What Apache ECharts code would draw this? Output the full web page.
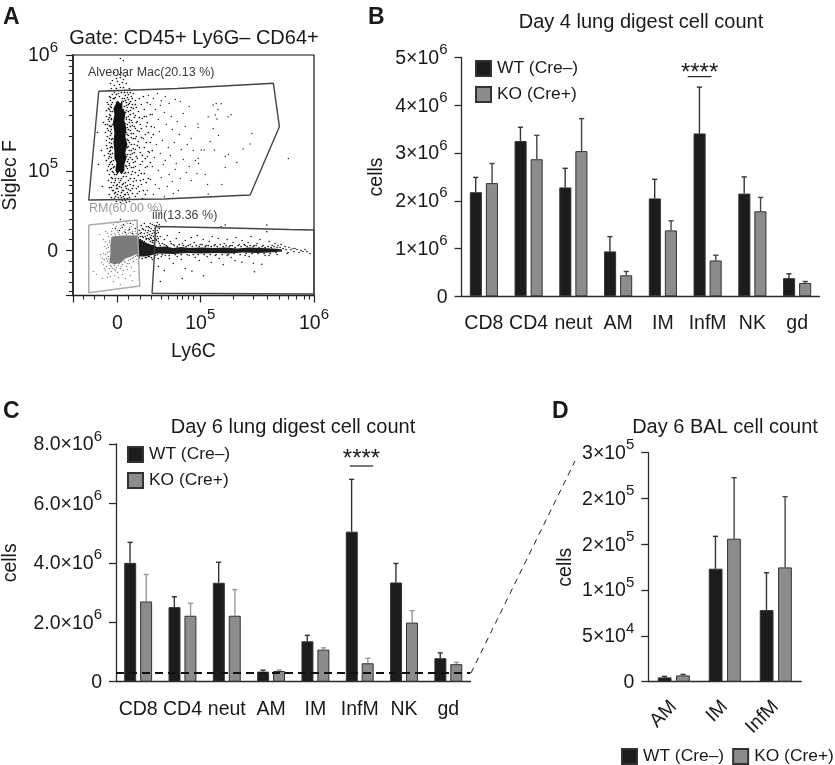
<!DOCTYPE html>
<html><head><meta charset="utf-8">
<style>html,body{margin:0;padding:0;background:#fff}#c{width:835px;height:765px}</style>
<script src="https://cdn.jsdelivr.net/npm/echarts@6/dist/echarts.min.js"></script>
</head><body><div id="c"></div>
<script>
// ---------- data: bars ----------
const wtName = 'WT (Cre–)', koName = 'KO (Cre+)';
const cats8 = ['CD8','CD4','neut','AM','IM','InfM','NK','gd'];
const catsD = ['AM','IM','InfM'];
const bWT = [2.18e6,3.25e6,2.28e6,0.94e6,2.05e6,3.41e6,2.15e6,0.38e6];
const bWTup = [2.49e6,3.54e6,2.68e6,1.25e6,2.45e6,4.38e6,2.50e6,0.47e6];
const bKO = [2.37e6,2.87e6,3.04e6,0.44e6,1.38e6,0.75e6,1.78e6,0.28e6];
const bKOup = [2.78e6,3.37e6,3.72e6,0.52e6,1.58e6,0.86e6,2.07e6,0.31e6];
const cWT = [4.0e6,2.51e6,3.33e6,0.34e6,1.36e6,5.05e6,3.34e6,0.79e6];
const cWTup = [4.69e6,2.86e6,4.02e6,0.39e6,1.56e6,6.81e6,3.98e6,0.97e6];
const cKO = [2.70e6,2.22e6,2.22e6,0.36e6,1.08e6,0.62e6,1.99e6,0.59e6];
const cKOup = [3.61e6,2.64e6,3.10e6,0.39e6,1.14e6,0.79e6,2.39e6,0.65e6];
const dWT = [4.7e3,1.234e5,0.782e5];
const dWTup = [5.8e3,1.587e5,1.19e5];
const dKO = [6.9e3,1.561e5,1.248e5];
const dKOup = [8.0e3,2.227e5,2.02e5];
const cDashed = 3.0e5;
// ---------- tick labels ----------
const bTicks = ['0','1×10^6','2×10^6','3×10^6','4×10^6','5×10^6'];
const cTicks = ['0','2.0×10^6','4.0×10^6','6.0×10^6','8.0×10^6'];
const dTicks = ['0','5×10^4','1×10^5','2×10^5','2×10^5','3×10^5'];
// ---------- panel A, display channels on a biexponential scale ----------
const aXMajor = [-44.5,0,83,197];
const aYMajor = [-45,0,79.5,195.5];
const aXLabels = {0:'0',83:'10^5',197:'10^6'};
const aYLabels = {0:'0',79.5:'10^5',195.5:'10^6'};
const aXMinor = [-34.7,-23.7,-12.7,11.3,23,34,44,51.3,59.7,65.3,71.3,76.3,116.3,136.3,149.7,162.3,170.7,179.7,187.3,192.3];
const aYMinor = [-41.2,-31.8,-21.8,-11.2,11.2,21.2,31.5,40.5,48.8,57.2,65.5,70.5,114.4,134.8,149.3,160.6,169.8,177.5,184.3,190.2];
const gateAM = [[-18.7,159.2],[60,162],[156.3,167.2],[162.3,123.8],[133,55.5],[46.3,51.5],[-28.7,50.5],[-18.7,159.2]];
const gateRM = [[-28.7,25.5],[19.7,30.5],[22.3,-35.5],[-28.7,-42.2],[-28.7,25.5]];
const gateIM = [[38,24],[112,22.5],[172,21],[197,20.5],[197,-43.5],[34.7,-42.8],[37,-6.2],[38,24]];
const blobRM = [[-6,14],[6,15],[20,15],[20,-3],[14,-6],[8,-8],[4,-12],[-3,-14],[-8,-12],[-7,-3],[-7,5]];
const blobAM = [[-2,146],[0,150],[3,147],[5,151],[5,142],[8,138],[7,130],[9,122],[8,114],[10,106],[8,98],[9,92],[7,86],[7,80],[4,76],[2,79],[0,76],[-2,80],[-1,88],[-3,92],[-3,100],[-4,108],[-3,118],[-4.5,128],[-3,136],[-4,142]];
const blobStreak = [[20,13],[24,10],[28,8],[33,6],[37,5],[40,3.5],[48,4],[56,2.5],[64,3.5],[72,2.5],[84,3],[96,2.5],[108,3],[120,2],[132,3],[144,2.5],[156,2],[165,1],[165,-1],[152,-2],[140,-2.5],[126,-2],[112,-3],[100,-2.5],[84,-3],[70,-2.5],[56,-3.5],[40,-3],[33,-5],[26,-6],[20,-6]];
const dotsAMcloud = [[3,192],[6,190],[-3,178],[0,180],[2,176],[4,178],[-1,172],[3,173],[6,171],[8,174],[-5,170],[0,169],[5,168],[2,166],[-3,165],[-7,167],[9,167],
[-9,160],[-6,162],[-3,158],[3,163],[7,160],[10,158],[12,162],[16,157],[-8,154],[-5,156],[-2,153],[1,157],[5,152],[8,155],[11,151],[14,154],[18,150],[22,152],
[-10,148],[-7,150],[-6,146],[-1,148],[6,149],[9,145],[12,147],[15,146],[19,143],[24,146],[-9,142],[-7,139],[-6,143],[6,141],[8,138],[10,143],[13,140],[16,137],[21,139],[27,141],
[-11,134],[-8,136],[-6,132],[7,135],[9,131],[11,134],[14,130],[17,133],[20,129],[25,132],[-10,126],[-8,129],[-6,124],[8,127],[10,123],[12,128],[15,125],[18,122],[23,126],[29,124],
[-12,118],[-9,120],[-7,115],[-6,121],[9,118],[11,115],[13,120],[16,117],[19,114],[22,119],[28,116],[-11,110],[-8,112],[-6,107],[10,111],[12,108],[14,113],[17,106],[21,109],[26,112],[33,108],
[-10,102],[-8,99],[-6,104],[10,103],[12,100],[15,97],[18,101],[23,98],[27,103],[-13,95],[-9,92],[-7,96],[-6,89],[9,94],[11,91],[13,96],[16,88],[20,92],[25,89],[30,94],
[-9,84],[-7,81],[-5,86],[8,85],[10,82],[12,87],[15,79],[18,84],[22,80],[28,83],[-8,76],[-6,73],[-4,78],[7,77],[9,74],[11,70],[14,76],[17,72],[21,75],[26,71],
[-6,68],[-4,65],[-2,70],[0,66],[2,68],[4,63],[6,67],[8,64],[11,61],[13,66],[16,69],[19,62],[24,66],[-5,60],[-3,57],[-1,62],[1,59],[3,55],[5,60],[7,56],[10,58],[12,53],[15,57],[18,54],[22,59],
[-3,52],[-1,49],[1,53],[3,48],[5,50],[7,52],[9,48],[12,49],[-14,128],[-16,100],[-19,86],[-15,64],[-20,118]];
const dotsAMdense = [[-7,153],[-4,160],[-1,162],[1,160],[4,158],[6,163],[8,150],[10,153],[13,149],[-9,146],[-8,141],[-7,135],[-9,131],[-8,125],[-7,119],[-10,114],[-8,108],[-7,103],[-9,97],[-8,94],[-7,88],[-6,82],[-8,86],[-5,79],
[7,158],[9,148],[11,146],[14,143],[11,139],[13,136],[12,131],[15,128],[13,124],[11,121],[14,117],[16,112],[14,106],[16,102],[14,100],[13,93],[15,91],[12,85],[14,83],[11,78],[13,72],[8,68],[10,65],[5,66],[3,70],[-1,65],[-3,68],[-5,72],
[-6,63],[-4,60],[-2,58],[0,62],[2,64],[4,58],[6,60],[8,56],[9,62],[11,56],[13,60],[15,62],[-2,54],[0,56],[2,51],[4,53],[6,54],[8,50],[10,52],[-1,76],[-4,83],[-6,93],[-7,100],[-6,111],[-7,124],[-8,133],[-7,144],
[16,142],[18,135],[19,128],[17,124],[20,120],[18,112],[20,105],[17,98],[19,94],[18,89],[16,83],[18,78],[19,70],[16,65],[20,57],[15,152],[13,158],[11,156],[18,146],[22,133],[24,122],[24,113],[22,103],[25,95],[23,86],[24,77],[23,70],[21,64],
[-11,140],[-10,122],[-11,105],[-11,90],[-10,80],[-9,70],[-8,63],[-8,56],[-6,53],[-7,160],[-4,152],[-12,126],[27,134],[30,128],[31,118],[29,108],[31,99],[28,92],[30,84],[27,77],[29,68],[26,60],[31,72],[28,56],[25,52],[33,88],[35,100],[34,124],[36,116],[33,136],[30,148],[26,154],
[-5,148],[-5,139],[-6,131],[-5,126],[-6,117],[-5,112],[-5,103],[-5,97],[-4,90],[-3,84],[-3,76],[-2,72],[1,72],[4,72],[6,74],[8,78],[9,84],[10,89],[10,96],[11,104],[11,110],[10,116],[10,126],[9,133],[9,140],[7,144],[7,152],[2,154],[-1,156],[-3,152]];
const dotsAMsparse = [[96,145.5],[99,147],[104,146.8],[100.7,141],[98,135.5],[99.7,131.5],[91,133.8],[111,133.8],[114,135.8],[80.7,126.5],[81,123],[96,122],[134.7,117],[101.3,115],[93,109],[133,106.5],[126,101.5],[84,100.5],[87,100.5],[97.3,100.5],[111.3,96],[108,94],[171.3,92],[81,92],[119.7,88],[78,90],[81.3,87],[108,83],[79.7,77],[88,76],[90.3,66],[104.7,66],[91,56.5],
[31,155],[36,152],[40,157],[44,150],[48,154],[33,146],[38,141],[43,145],[52,147],[58,151],[63,149],[29,134],[35,136],[41,131],[47,138],[54,134],[60,129],[66,137],[72,144],[37,123],[42,119],[49,126],[55,121],[62,116],[68,124],[74,112],[34,113],[39,106],[45,110],[51,103],[57,108],[64,101],[70,106],[32,98],[37,93],[43,97],[48,90],[53,95],[59,87],[66,91],[72,84],[35,84],[41,80],[46,86],[52,76],[58,81],[63,72],[69,78],[33,71],[38,66],[44,73],[50,64],[55,69],[61,60],[30,60],[36,56],[42,62],[47,54],[56,57],[74,70],[76,100]];
const dotsDark = [[0,28],[3,31],[6,26],[9,29],[13,27],[17,30],[20,24],[-2,22],[2,20],[5,23],[8,18],[12,21],[15,17],[18,22],
[21,13],[23,17],[25,10],[26,21],[28,14],[29,7],[30,18],[31,24],[32,11],[33,27],[34,15],[35,8],[36,20],[37,25],[38,12],[39,17],[40,28],[41,9],[42,22],[24,25],[27,27],[22,7],[24,4],[26,-5],[29,-7],[32,-6],[35,-9],[38,-5],[41,-8],[30,3],[36,5],[43,14],[45,7],[47,11],[49,5],[44,-6],
[21,16],[22,20],[23,14],[24,18],[25,22],[26,13],[27,17],[28,20],[29,24],[29,11],[30,15],[31,12],[31,20],[32,16],[32,23],[33,19],[33,9],[34,12],[34,22],[35,17],[35,26],[36,14],[36,10],[37,18],[37,8],[38,22],[38,15],[39,10],[39,25],[40,14],[40,20],[41,12],[41,18],[42,7],[42,26],
[50,15],[53,9],[56,6],[59,12],[62,18],[65,7],[68,10],[71,5],[74,13],[77,8],[80,15],[83,6],[86,11],[89,5],[92,9],[95,14],[98,6],[101,12],[104,23.8],[108,25.5],[107,7],[110,11],[113,5],[116,8],[119,13],[122,6],[125,10],[128,5],[131,8],[134,14],[137,5],[140,7],[143,11],[146,5],[149.7,25.5],[149.7,18.8],[152,9],[155,5],[158,7],[161,5],[164,6],[168,4],[172,3],[176,2],[180,1],[186,-1],[193,-3],
[48,-5],[52,-8],[56,-13],[60,-6],[64,-9],[68,-18],[72,-5],[74.7,-20.5],[78,-7],[82,-10],[86.3,-25.2],[90,-6],[94,-12],[98,-5],[102,-8],[106,-14],[110,-5],[114,-7],[118,-10],[124.7,-11.8],[128,-5],[132,-6],[136.3,-12.8],[137.3,-21.2],[144.7,-13.8],[148,-5],[152,-5],[160,-4],[170,-3],[178,2],[182,-2],[188,1],[65,-28],[47,-20],[41,-16],[43,-31]];
const dotsStreakFuzz = [[21,8],[23,11],[25,14],[27,9],[29,12],[31,6],[33,13],[35,10],[37,7],[39,11],[22,-7],[25,-8],[28,-7],[31,-6],[34,-7],[37,-7],[40,-4],[43,5],[45,-4],[47,6],[50,4],[52,-5],[54,7],[57,5],[58,-4],[60,4],[62,6],[64,-4],[66,5],[69,4],[70,-4],[73,6],[75,4],[76,-4],[79,5],[81,-4],[82,4],[85,6],[87,-4],[88,4],[91,5],[93,-4],[94,4],[97,5],[99,-4],[100,4],[103,6],[105,-4],[106,4],[109,5],[111,-4],[112,4],[115,5],[117,-3],[118,3],[121,5],[123,-4],[124,4],[127,6],[129,-3],[130,4],[133,5],[135,-3],[136,4],[139,5],[141,-3],[142,3],[145,4],[147,-3],[148,3],[151,4],[153,-3],[154,3],[157,4],[159,-2],[160,3],[163,3],[166,2],[169,1],[171,-2],[174,1],[177,-1],[184,0],[190,-1]];
const dotsGray = [[-4,26],[-1,24],[3,22],[7,25],[11,20],[14,24],[18,19],[-6,19],[-3,17],[1,18],[5,17],[9,16],[13,18],[16,16],[-9,14],[-8,10],[-10,6],[-7,5],[-11,2],[-8,-1],[-12,-4],[-9,-6],[-13,-9],[-10,-11],[-8,-13],[-14,-14],[-11,-16],[-8,-18],[-6,-16],[-3,-15],[-1,-17],[2,-13],[5,-14],[8,-12],[11,-10],[15,-8],[18,-6],[-12,-20],[-9,-23],[-6,-21],[-3,-19],[0,-22],[3,-18],[6,-20],[9,-16],[12,-13],[16,-11],[19,-9],[-7,-26],[-3,-25],[1,-27],[5,-24],[10,-19],[14,-17],[17,-21],[-4,-31],[8,-28],[13,-25],[-17,-4],[-16,-12],[-21,-24],[-15,-28],[-18,16],[-14,11],[-13,4],[-24,-21],[3,-34],[15,-30],[-12,19],[-7,28],[10,27],
[-10,-2],[-9,3],[-8,8],[-11,-8],[-9,-9],[-7,-15],[-5,-18],[-2,-20],[1,-15],[4,-16],[7,-11],[10,-13],[13,-9],[16,-7],[19,-5],[-6,16],[-2,15.5],[2,16],[7,19],[11,17],[15,19],[19,17],[-5,22],[0,20],[4,25],[8,21],[12,23],[16,26],[-10,17],[-12,9],[-14,-3],[-15,-8],[-13,-18],[-10,-27]];
// ---------- significance bars ----------
const sigB = {cat:5, y:4.6e6, stars:'****'};
const sigC = {cat:5, y:7.26e6, stars:'****'};

// ---------- helpers ----------
const FONT = '"Liberation Sans", Arial, sans-serif';
const sci = s => { const p = String(s).split('^'); return p.length>1 ? `{m|${p[0]}}{s|${p[1]}}` : `{m|${p[0]}}`; };
const rich = { m:{fontFamily:FONT,fontSize:19.5,color:'#1a1a1a',lineHeight:26,verticalAlign:'bottom'},
               s:{fontFamily:FONT,fontSize:15,color:'#1a1a1a',lineHeight:18,verticalAlign:'top'} };
const lineC = '#2a2a2a';
const catAxis = (g,data,rotate,margin) => ({type:'category',gridIndex:g,data,
  axisLine:{lineStyle:{color:lineC,width:1.3}},
  axisTick:{alignWithLabel:true,length:7,lineStyle:{color:lineC,width:1.3}},
  axisLabel:{interval:0,rotate:rotate||0,margin:margin||10,fontFamily:FONT,fontSize:19.5,color:'#1a1a1a'}});
const valAxis = (g,max,interval,labels,margin) => ({type:'value',gridIndex:g,min:0,max,interval,splitLine:{show:false},
  axisLine:{show:true,lineStyle:{color:lineC,width:1.3}},
  axisTick:{show:true,length:7,lineStyle:{color:lineC,width:1.3}},
  name:'cells',nameLocation:'middle',nameRotate:90,
  nameTextStyle:{fontFamily:FONT,fontSize:19.5,color:'#1a1a1a'},
  axisLabel:{margin:margin||14,padding:[0,0,4,0],rich,formatter:v=>sci(labels[Math.round(v/interval)])}});
const barS = (name,vals,ax,fill,extra) => Object.assign({type:'bar',name,data:vals,xAxisIndex:ax,yAxisIndex:ax,
  barWidth:'27%',barGap:'33%',itemStyle:{color:fill,borderColor:'#333',borderWidth:1},z:3},extra||{});
const errS = (vals,ups,ax,side,color) => ({type:'custom',name:'err'+ax+side,xAxisIndex:ax,yAxisIndex:ax,z:2,silent:true,
  data:vals.map((v,i)=>[i,v,ups[i]]),
  encode:{x:0,y:[1,2]},
  renderItem:(p,api)=>{
    const off = api.size([1,0])[0]*0.183*side;
    const a = api.coord([api.value(0),api.value(1)]), b = api.coord([api.value(0),api.value(2)]);
    const x = a[0]+off;
    return {type:'group',children:[
      {type:'line',shape:{x1:x,y1:a[1],x2:x,y2:b[1]},style:{stroke:color,lineWidth:1.4}},
      {type:'line',shape:{x1:x-2.6,y1:b[1],x2:x+2.6,y2:b[1]},style:{stroke:color,lineWidth:1.4}}]};
  }});
const sigS = (sig,ax,shift,lift) => ({type:'custom',name:'sig'+ax,xAxisIndex:ax,yAxisIndex:ax,z:4,silent:true,
  data:[[sig.cat,sig.y]],encode:{x:0,y:1},
  renderItem:(p,api)=>{
    const c = api.coord([api.value(0),api.value(1)]); const band = api.size([1,0])[0]; const hw = band*0.265;
    const x = c[0]+band*shift;
    return {type:'group',children:[
      {type:'line',shape:{x1:x-hw,y1:c[1],x2:x+hw,y2:c[1]},style:{stroke:'#222',lineWidth:1.2}},
      {type:'text',style:{text:sig.stars,x,y:c[1]+lift,align:'center',verticalAlign:'bottom',font:'24px '+FONT,fill:'#1a1a1a'}}]};
  }});
const dots = (d,color,size,z) => ({type:'scatter',name:'dots'+z+color+d.length,data:d,xAxisIndex:0,yAxisIndex:0,symbolSize:size,silent:true,
  itemStyle:{color,opacity:1},z,large:false,animation:false});
const gate = (d,color,w) => ({type:'line',data:d,xAxisIndex:0,yAxisIndex:0,showSymbol:false,symbol:'none',silent:true,
  lineStyle:{color,width:w},z:6});
const blob = (d,color,z) => ({type:'custom',xAxisIndex:0,yAxisIndex:0,silent:true,z,data:d,encode:{x:0,y:1},
  renderItem:(p,api)=> p.dataIndex===0 ? {type:'polygon',shape:{points:d.map(q=>api.coord(q))},style:{fill:color}} : null});
const txt = (text,x,y,size,opt) => Object.assign({text,left:x,top:y,
  textStyle:{fontFamily:FONT,fontSize:size,fontWeight:(opt&&opt.bold)?'bold':'normal',color:(opt&&opt.color)||'#1a1a1a'},padding:0},
  (opt&&opt.center)?{textAlign:'center'}:{});
const leg = (left,top,orient,gap) => ({left,top,orient,itemWidth:15,itemHeight:15,itemGap:gap,data:[wtName,koName],icon:'rect',
  selectedMode:false,textStyle:{fontFamily:FONT,fontSize:17.4,color:'#1a1a1a',padding:[0,0,0,1]},padding:0});

const chart = echarts.init(document.getElementById('c'),null,{renderer:'canvas'});
chart.setOption({
  animation:false,backgroundColor:'#fff',
  title:[
    txt('A',3,6,23,{bold:true}), txt('B',368,6,23,{bold:true}), txt('C',3,400,23,{bold:true}), txt('D',552,400,23,{bold:true}),
    txt('Gate: CD45+ Ly6G– CD64+',194,28,20,{center:true}),
    txt('Day 4 lung digest cell count',641,12,20,{center:true}),
    txt('Day 6 lung digest cell count',293,417,20,{center:true}),
    txt('Day 6 BAL cell count',725,417,20,{center:true}),
    txt('Alveolar Mac(20.13 %)',88,66,12.5,{color:'#3a3a3a'}),
    txt('RM(60.00 %)',89,202,12.5,{color:'#999'}),
    txt('iiii(13.36 %)',152,209,12.5,{color:'#444'})
  ],
  legend:[leg(475,60,'vertical',9),leg(127,446,'vertical',9),leg(621,748,'horizontal',8)],
  grid:[
    {left:73,top:55,width:241,height:240.5,show:true,borderColor:'#111',borderWidth:1.2,backgroundColor:'transparent'},
    {left:461.5,top:57.5,width:358,height:238.8},
    {left:113.5,top:444,width:357,height:237.7},
    {left:648.3,top:452.7,width:153,height:229}
  ],
  xAxis:[
    {type:'value',gridIndex:0,position:'bottom',min:-44.5,max:197,splitLine:{show:false},
     name:'Ly6C',nameLocation:'middle',nameGap:46,nameTextStyle:{fontFamily:FONT,fontSize:19.5,color:'#1a1a1a'},
     axisLine:{show:true,onZero:false,lineStyle:{color:'#222',width:1.3}},
     axisTick:{show:true,length:7,customValues:aXMajor,lineStyle:{color:'#222',width:1.2}},
     axisLabel:{customValues:[0,83,197],margin:12,rich,showMinLabel:true,showMaxLabel:true,formatter:v=>sci(aXLabels[v])}},
    {type:'value',gridIndex:0,position:'bottom',min:-44.5,max:197,splitLine:{show:false},axisLine:{show:false,onZero:false},
     axisTick:{show:true,length:4,customValues:aXMinor,lineStyle:{color:'#222',width:1.1}},axisLabel:{show:false}},
    catAxis(1,cats8,0,17), catAxis(2,cats8,0,18),
    catAxis(3,catsD,45,22)
  ],
  yAxis:[
    {type:'value',gridIndex:0,position:'left',min:-45,max:195.5,splitLine:{show:false},
     name:'Siglec F',nameLocation:'middle',nameRotate:90,nameGap:52,nameTextStyle:{fontFamily:FONT,fontSize:19.5,color:'#1a1a1a'},
     axisLine:{show:true,onZero:false,lineStyle:{color:'#222',width:1.6}},
     axisTick:{show:true,length:7,customValues:aYMajor,lineStyle:{color:'#222',width:1.2}},
     axisLabel:{customValues:[0,79.5,195.5],margin:15,padding:[0,0,4,0],rich,showMinLabel:true,showMaxLabel:true,formatter:v=>sci(aYLabels[v])}},
    {type:'value',gridIndex:0,position:'left',min:-45,max:195.5,splitLine:{show:false},axisLine:{show:false,onZero:false},
     axisTick:{show:true,length:4,customValues:aYMinor,lineStyle:{color:'#222',width:1.1}},axisLabel:{show:false}},
    Object.assign(valAxis(1,5e6,1e6,bTicks),{nameGap:75}),
    Object.assign(valAxis(2,8e6,2e6,cTicks),{nameGap:95}),
    Object.assign(valAxis(3,2.5e5,5e4,dTicks),{nameGap:73})
  ],
  series:[
    dots(dotsGray,'#8e8e8e',1.5,2),
    blob(blobRM,'#7b7b7b',3),
    dots(dotsDark,'#1a1a1a',1.6,4),
    dots(dotsStreakFuzz,'#1a1a1a',1.7,4),
    blob(blobStreak,'#1c1c1c',4),
    dots(dotsAMcloud,'#111',1.6,4),
    dots(dotsAMdense,'#111',1.7,4),
    dots(dotsAMsparse,'#222',1.4,4),
    blob(blobAM,'#111',5),
    gate(gateAM,'#444',1.4), gate(gateRM,'#aaa',1.5), gate(gateIM,'#444',1.4),
    barS(wtName,bWT,2,'#1c1c1c'), barS(koName,bKO,2,'#8c8c8c'),
    errS(bWT,bWTup,2,-1,'#333'), errS(bKO,bKOup,2,1,'#444'), sigS(sigB,2,-0.18,9),
    barS(wtName,cWT,3,'#1c1c1c',{markLine:{silent:true,symbol:'none',z:9,label:{show:false},
      lineStyle:{color:'#111',type:[8,5],width:2},data:[{yAxis:cDashed}]}}),
    barS(koName,cKO,3,'#8c8c8c'),
    errS(cWT,cWTup,3,-1,'#333'), errS(cKO,cKOup,3,1,'#999'), sigS(sigC,3,0.04,5),
    barS(wtName,dWT,4,'#1c1c1c'), barS(koName,dKO,4,'#8c8c8c'),
    errS(dWT,dWTup,4,-1,'#333'), errS(dKO,dKOup,4,1,'#444')
  ],
  graphic:[{type:'line',silent:true,shape:{x1:471,y1:673,x2:575,y2:461},style:{stroke:'#222',lineWidth:1,lineDash:[6,5]}}]
});
</script></body></html>
